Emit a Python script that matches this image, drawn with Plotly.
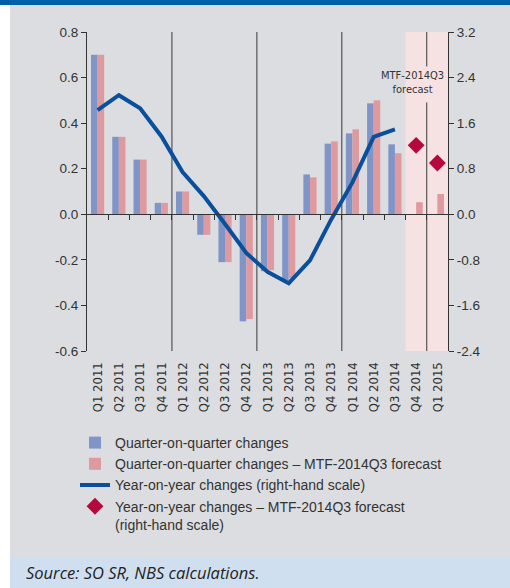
import plotly.graph_objects as go

categories = ["Q1 2011", "Q2 2011", "Q3 2011", "Q4 2011",
              "Q1 2012", "Q2 2012", "Q3 2012", "Q4 2012",
              "Q1 2013", "Q2 2013", "Q3 2013", "Q4 2013",
              "Q1 2014", "Q2 2014", "Q3 2014", "Q4 2014", "Q1 2015"]

qoq = [0.70, 0.34, 0.24, 0.05, 0.10, -0.09, -0.21, -0.47,
       -0.25, -0.29, 0.175, 0.31, 0.355, 0.487, 0.307, None, None]
qoq_fc = [0.70, 0.34, 0.24, 0.05, 0.10, -0.09, -0.21, -0.46,
          -0.245, -0.28, 0.162, 0.32, 0.373, 0.50, 0.268, 0.053, 0.089]
yoy = [1.83, 2.09, 1.86, 1.37, 0.74, 0.32, -0.17, -0.68,
       -1.01, -1.21, -0.81, -0.09, 0.56, 1.36, 1.49, None, None]
yoy_fc = [None] * 15 + [1.21, 0.90]

left_ticks = [0.8, 0.6, 0.4, 0.2, 0.0, -0.2, -0.4, -0.6]
left_labels = ["0.8", "0.6", "0.4", "0.2", "0.0", "-0.2", "-0.4", "-0.6"]
right_ticks = [3.2, 2.4, 1.6, 0.8, 0.0, -0.8, -1.6, -2.4]
right_labels = ["3.2", "2.4", "1.6", "0.8", "0.0", "-0.8", "-1.6", "-2.4"]

BLUE_BAR = "#7f95c7"
PINK_BAR = "#de9a9e"
LINE = "#0a4f9c"
DIAMOND = "#b5083e"
GRAY = "#dcdde0"
TXT = "#333333"
NARROW = "Liberation Sans Narrow, Arial Narrow, DejaVu Sans Condensed, sans-serif"
SANS = "Liberation Sans, Arial, sans-serif"

W, H = 510, 588
ml, mr, mt, mb = 87, 62, 32, 237
pw = W - ml - mr
ph = H - mt - mb


def px2paper_x(px):
    return (px - ml) / pw


def px2paper_y(py):
    return (H - mb - py) / ph


fig = go.Figure()
fig.add_trace(go.Bar(x=categories, y=qoq, name="Quarter-on-quarter changes",
                     marker=dict(color=BLUE_BAR, line=dict(width=0))))
fig.add_trace(go.Bar(x=categories, y=qoq_fc,
                     name="Quarter-on-quarter changes \u2013 MTF-2014Q3 forecast",
                     marker=dict(color=PINK_BAR, line=dict(width=0))))
fig.add_trace(go.Scatter(x=categories, y=yoy, yaxis="y2", mode="lines",
                         name="Year-on-year changes (right-hand scale)",
                         line=dict(color=LINE, width=4)))
fig.add_trace(go.Scatter(x=categories, y=yoy_fc, yaxis="y2", mode="markers",
                         name="Year-on-year changes \u2013 MTF-2014Q3 forecast<br>(right-hand scale)",
                         marker=dict(symbol="diamond", size=13, color=DIAMOND)))
# invisible helper trace so that the zero-line tick axis is drawn
fig.add_trace(go.Scatter(x=[-0.5, 16.5], y=[0, 0], xaxis="x2", yaxis="y", mode="lines",
                         line=dict(width=0, color="rgba(0,0,0,0)"), showlegend=False,
                         hoverinfo="skip"))

shapes = []
shapes.append(dict(type="rect", xref="paper", yref="paper",
                   x0=px2paper_x(0), x1=px2paper_x(10), y0=px2paper_y(588), y1=px2paper_y(0),
                   fillcolor="white", line=dict(width=0), layer="below"))
shapes.append(dict(type="rect", xref="paper", yref="paper",
                   x0=px2paper_x(0), x1=px2paper_x(510), y0=px2paper_y(5), y1=px2paper_y(0),
                   fillcolor="#0061a8", line=dict(width=0), layer="below"))
shapes.append(dict(type="rect", xref="paper", yref="paper",
                   x0=px2paper_x(10), x1=px2paper_x(510), y0=px2paper_y(588), y1=px2paper_y(558),
                   fillcolor="#cfdfef", line=dict(width=0), layer="below"))
# forecast shading
shapes.append(dict(type="rect", xref="x", yref="y", x0=14.5, x1=16.5, y0=-0.6, y1=0.8,
                   fillcolor="#f6e2e3", line=dict(width=0), layer="below"))
# year separators
for xb in [3.5, 7.5, 11.5]:
    shapes.append(dict(type="line", xref="x", yref="y", x0=xb, x1=xb, y0=-0.6, y1=0.8,
                       line=dict(color="#3a3a3a", width=1), layer="below"))
shapes.append(dict(type="line", xref="x", yref="y", x0=15.5, x1=15.5, y0=0.649, y1=0.8,
                   line=dict(color="#3a3a3a", width=1), layer="below"))
shapes.append(dict(type="line", xref="x", yref="y", x0=15.5, x1=15.5, y0=-0.6, y1=0.491,
                   line=dict(color="#3a3a3a", width=1), layer="below"))

annotations = [
    dict(xref="paper", yref="paper", x=px2paper_x(412), y=px2paper_y(82),
         xanchor="center", yanchor="middle",
         text="MTF-2014Q3<br>forecast", showarrow=False,
         font=dict(family=NARROW, size=11, color=TXT), align="center"),
    dict(xref="paper", yref="paper", x=px2paper_x(24), y=px2paper_y(572),
         xanchor="left", yanchor="middle",
         text="<i>Source: SO SR, NBS calculations.</i>", showarrow=False,
         font=dict(family="Open Sans, Noto Sans, sans-serif", size=16.5, color="#222")),
]

fig.update_layout(
    width=W, height=H,
    margin=dict(l=ml, r=mr, t=mt, b=mb, pad=0),
    paper_bgcolor=GRAY, plot_bgcolor="rgba(0,0,0,0)",
    barmode="group", bargap=0.38, bargroupgap=0,
    shapes=shapes, annotations=annotations,
    showlegend=True,
    legend=dict(x=px2paper_x(75), y=px2paper_y(427), xanchor="left", yanchor="top",
                bgcolor="rgba(0,0,0,0)", traceorder="normal", valign="top",
                font=dict(family=SANS, size=14, color=TXT),
                itemwidth=30, tracegroupgap=0),
    xaxis=dict(type="category", categoryorder="array", categoryarray=categories,
               range=[-0.5, 16.5], showline=False, showgrid=False, zeroline=False,
               ticks="outside", ticklen=5, tickcolor="rgba(0,0,0,0)",
               tickangle=-90, tickfont=dict(family=NARROW, size=13, color=TXT)),
    xaxis2=dict(type="linear", overlaying="x", anchor="free", position=0.6 / 1.4,
                side="bottom", range=[-0.5, 16.5], showline=True, linecolor="#333",
                linewidth=1, ticks="outside", ticklen=5, tickcolor="#333", tickwidth=1,
                tickvals=[i + 0.5 for i in range(16)], showticklabels=False,
                showgrid=False, zeroline=False),
    yaxis=dict(range=[-0.6, 0.8], tickvals=left_ticks, ticktext=left_labels,
               showline=True, linecolor="#333", linewidth=1.2,
               ticks="outside", ticklen=5, tickcolor="#333",
               showgrid=False, zeroline=False,
               tickfont=dict(family=SANS, size=13.5, color=TXT)),
    yaxis2=dict(overlaying="y", side="right", range=[-2.4, 3.2], tickvals=right_ticks,
                ticktext=right_labels, showline=True, linecolor="#333", linewidth=1.2,
                ticks="outside", ticklen=5, tickcolor="#333",
                showgrid=False, zeroline=False,
                tickfont=dict(family=SANS, size=13.5, color=TXT)),
)

fig.write_html("out.html", post_script="document.body.style.margin='0';",
               config={"displayModeBar": False})
